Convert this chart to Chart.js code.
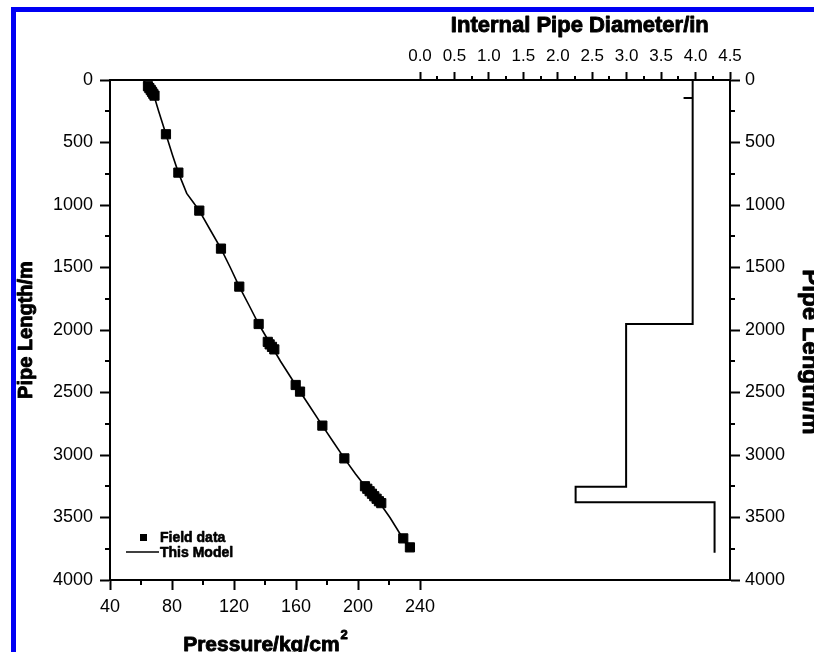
<!DOCTYPE html>
<html>
<head>
<meta charset="utf-8">
<script src="https://cdn.jsdelivr.net/npm/chart.js@4.4.1/dist/chart.umd.min.js"></script>
<style>
  html, body { margin: 0; padding: 0; background: #fff; overflow: hidden; }
  #quadro { position: relative; width: 814px; height: 652px; overflow: hidden; }
  #moldura { position: absolute; left: 11px; top: 7px; right: -20px; bottom: -20px;
             border-top: 5px solid #0000f4; border-left: 5px solid #0000f4; pointer-events: none; }
  canvas { position: absolute; left: 0; top: 0; }
</style>
</head>
<body>
<div id="quadro">
  <canvas id="grafico-pressao" width="830" height="652"></canvas>
  <div id="moldura"></div>
</div>
<script>
// dados de campo: pressao (kg/cm2) x comprimento do tubo (m)
var campoPressao = [64.5, 65.4, 66.3, 67.1, 67.9, 68.7, 76.1, 84.1, 97.6, 111.6, 123.4, 135.9,
    141.8, 143.0, 144.5, 146.0, 159.8, 162.6, 177.0, 191.2,
    204.5, 206.0, 207.5, 209.0, 210.5, 212.0, 213.5, 215.0, 229.2, 233.5];
var campoComprimento = [50, 65, 80, 95, 110, 125, 434, 741, 1045, 1349, 1653, 1952,
    2095, 2115, 2135, 2155, 2440, 2493, 2765, 3027,
    3250, 3270, 3290, 3310, 3330, 3350, 3370, 3385, 3667, 3739];

// curva do modelo
var modeloPressao = [61.5, 63.8, 66.0, 68.5, 71.4, 76.1, 80.3, 84.1, 89.5, 93.8, 97.6, 104.7,
    111.6, 117.6, 123.4, 129.6, 135.9, 142.9, 150.0, 159.8, 168.3, 177.0, 184.3, 191.2,
    198.3, 205.2, 213.8, 220.6, 226.6, 232.6];
var modeloComprimento = [0, 40, 80, 130, 250, 434, 600, 741, 907, 980, 1045, 1200,
    1349, 1500, 1653, 1800, 1952, 2100, 2250, 2440, 2600, 2765, 2900, 3027,
    3150, 3260, 3380, 3500, 3620, 3740];

// diametro interno da coluna (in) por trecho
var diametro = [3.958, 3.958, 3.826, 3.958, 3.958, 2.992, 2.992, 2.259, 2.259, 4.276, 4.276];
var diametroComprimento = [0, 144, 144, 144, 1952, 1952, 3254, 3254, 3378, 3378, 3782];

// marcas dos eixos
var ticksPressao = [40, 80, 120, 160, 200, 240];
var ticksDiametro = [0.0, 0.5, 1.0, 1.5, 2.0, 2.5, 3.0, 3.5, 4.0, 4.5];
var ticksComprimento = [0, 500, 1000, 1500, 2000, 2500, 3000, 3500, 4000];

function pares(xs, ys) {
    return xs.map(function (v, i) { return { x: v, y: ys[i] }; });
}

function fixarTicks(lista) {
    return function (scale) {
        scale.ticks = lista.map(function (v) { return { value: v }; });
    };
}

var familia = '"Liberation Sans", Arial, sans-serif';

function eixo(extra) {
    var base = {
        type: 'linear',
        border: { display: true, color: '#000', width: 2 },
        grid: { drawOnChartArea: false, drawTicks: true, tickLength: 10, tickWidth: 2, tickColor: '#000', color: '#000' },
        ticks: {
            color: '#000', font: { family: familia, size: 18 }, autoSkip: false, maxRotation: 0,
            callback: function (v) { return String(v); }
        }
    };
    for (var k in extra) {
        if (typeof extra[k] === 'object' && base[k]) {
            base[k] = Object.assign({}, base[k], extra[k]);
        } else {
            base[k] = extra[k];
        }
    }
    return base;
}

// tracos menores entre as marcas principais
var tracosMenores = {
    id: 'tracosMenores',
    afterDraw: function (chart) {
        var c = chart.ctx, s = chart.scales;
        c.save();
        c.strokeStyle = '#000';
        c.lineWidth = 2;
        var grupos = [
            [s.x, ticksPressao, 'bottom', 5],
            [s.x2, ticksDiametro, 'top', 4],
            [s.y, ticksComprimento, 'left', 5],
            [s.y2, ticksComprimento, 'right', 5]
        ];
        grupos.forEach(function (g) {
            var sc = g[0], lista = g[1], lado = g[2], tam = g[3];
            for (var i = 0; i < lista.length - 1; i++) {
                var p = Math.round(sc.getPixelForValue((lista[i] + lista[i + 1]) / 2));
                c.beginPath();
                if (lado === 'bottom') { c.moveTo(p, sc.top); c.lineTo(p, sc.top + tam); }
                if (lado === 'top') { c.moveTo(p, sc.bottom); c.lineTo(p, sc.bottom - tam); }
                if (lado === 'left') { c.moveTo(sc.right, p); c.lineTo(sc.right - tam, p); }
                if (lado === 'right') { c.moveTo(sc.left, p); c.lineTo(sc.left + tam, p); }
                c.stroke();
            }
        });
        c.restore();
    }
};

function textoForte(c, t, x, y) {
    c.fillText(t, x, y);
    c.strokeText(t, x, y);
}

// titulos dos eixos e legenda
var titulos = {
    id: 'titulos',
    afterDraw: function (chart) {
        var c = chart.ctx, s = chart.scales, a = chart.chartArea;
        c.save();
        c.fillStyle = '#000';
        c.strokeStyle = '#000';
        c.lineWidth = 0.9;
        c.lineJoin = 'round';
        c.textBaseline = 'alphabetic';

        // topo
        c.font = 'bold 22px ' + familia;
        c.textAlign = 'center';
        textoForte(c, 'Internal Pipe Diameter/in', s.x2.getPixelForValue(2.32), 32);

        // base, com expoente
        var principal = 'Pressure/kg/cm';
        c.font = 'bold 21px ' + familia;
        var w1 = c.measureText(principal).width;
        c.font = 'bold 13px ' + familia;
        var w2 = c.measureText('2').width;
        var x0 = s.x.getPixelForValue(140) - (w1 + w2) / 2;
        c.textAlign = 'left';
        c.font = 'bold 21px ' + familia;
        textoForte(c, principal, x0, 651);
        c.font = 'bold 13px ' + familia;
        textoForte(c, '2', x0 + w1 + 1, 639);

        // esquerda
        c.save();
        c.font = 'bold 20px ' + familia;
        c.textAlign = 'center';
        c.translate(32, (a.top + a.bottom) / 2);
        c.rotate(-Math.PI / 2);
        textoForte(c, 'Pipe Length/m', 0, 0);
        c.restore();

        // direita (cortado na borda)
        c.save();
        c.font = 'bold 24px ' + familia;
        c.textAlign = 'center';
        c.translate(803, 352);
        c.rotate(Math.PI / 2);
        textoForte(c, 'Pipe Length/m', 0, 0);
        c.restore();

        // legenda
        c.fillRect(a.left + 30, a.bottom - 46, 7, 7);
        c.lineWidth = 1.5;
        c.beginPath();
        c.moveTo(a.left + 16, a.bottom - 28);
        c.lineTo(a.left + 49, a.bottom - 28);
        c.stroke();
        c.lineWidth = 0.6;
        c.font = 'bold 14px ' + familia;
        c.textAlign = 'left';
        c.textBaseline = 'middle';
        textoForte(c, 'Field data', a.left + 50, a.bottom - 42);
        textoForte(c, 'This Model', a.left + 50, a.bottom - 27);
        c.restore();
    }
};

var ctx = document.getElementById('grafico-pressao').getContext('2d');
var meuGrafico = new Chart(ctx, {
    type: 'scatter',
    data: {
        datasets: [{
            label: 'Field data',
            data: pares(campoPressao, campoComprimento),
            xAxisID: 'x',
            yAxisID: 'y',
            pointStyle: 'rect',
            pointRadius: 6.5,
            backgroundColor: '#000',
            borderColor: '#000',
            borderWidth: 1,
            showLine: false,
            clip: false
        }, {
            label: 'This Model',
            data: pares(modeloPressao, modeloComprimento),
            xAxisID: 'x',
            yAxisID: 'y',
            showLine: true,
            pointRadius: 0,
            borderColor: '#000',
            borderWidth: 1.6,
            tension: 0
        }, {
            label: 'Internal Pipe Diameter',
            data: pares(diametro, diametroComprimento),
            xAxisID: 'x2',
            yAxisID: 'y',
            showLine: true,
            pointRadius: 0,
            borderColor: '#000',
            borderWidth: 2,
            tension: 0
        }]
    },
    options: {
        responsive: false,
        animation: false,
        events: [],
        layout: { padding: 0 },
        plugins: {
            legend: { display: false },
            tooltip: { enabled: false }
        },
        scales: {
            x: eixo({
                position: 'bottom', min: 40, max: 440,
                afterBuildTicks: fixarTicks(ticksPressao),
                afterFit: function (scale) { scale.height = 72; },
                ticks: { padding: 6 }
            }),
            x2: eixo({
                position: 'top', min: -4.5, max: 4.5,
                afterBuildTicks: fixarTicks(ticksDiametro),
                afterFit: function (scale) { scale.height = 80; },
                grid: { tickLength: 8 },
                ticks: {
                    padding: 5, font: { family: familia, size: 17 },
                    callback: function (v) { return v.toFixed(1); }
                }
            }),
            y: eixo({
                position: 'left', min: 0, max: 4000, reverse: true,
                afterBuildTicks: fixarTicks(ticksComprimento),
                afterFit: function (scale) { scale.width = 110; },
                ticks: { padding: 7 }
            }),
            y2: eixo({
                position: 'right', min: 0, max: 4000, reverse: true,
                afterBuildTicks: fixarTicks(ticksComprimento),
                afterFit: function (scale) { scale.width = 100; },
                ticks: { padding: 5 }
            })
        }
    },
    plugins: [tracosMenores, titulos]
});
</script>
</body>
</html>
